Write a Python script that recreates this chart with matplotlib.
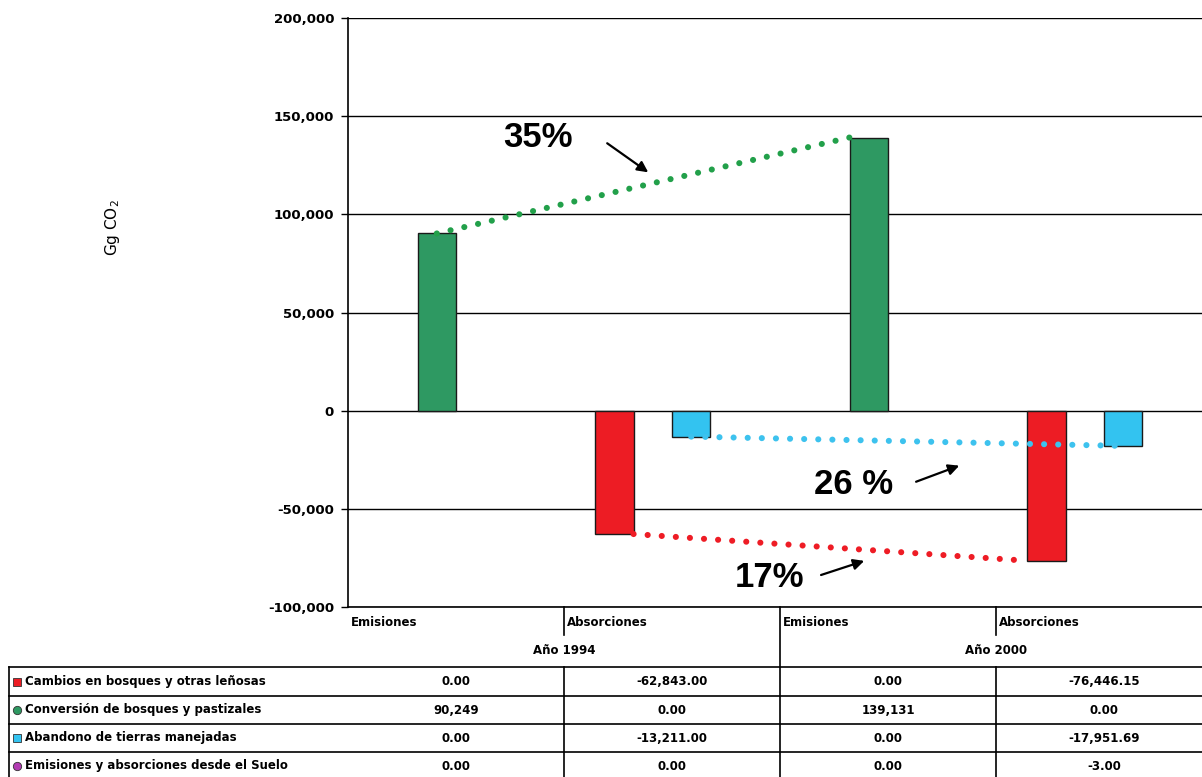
import numpy as np
import matplotlib
matplotlib.use("Agg")
import matplotlib.pyplot as plt

# datos
categorias = ["Emisiones", "Absorciones", "Emisiones", "Absorciones"]
anios = ["Año 1994", "Año 2000"]
series = [
    "Cambios en bosques y otras leñosas",
    "Conversión de bosques y pastizales",
    "Abandono de tierras manejadas",
    "Emisiones y absorciones desde el Suelo",
]
cambios = [0.00, -62843.00, 0.00, -76446.15]
conversion = [90249.0, 0.0, 139131.0, 0.0]
abandono = [0.00, -13211.00, 0.00, -17951.69]
suelo = [0.00, 0.00, 0.00, -3.00]
valores = [cambios, conversion, abandono, suelo]
decimales = [2, 0, 2, 2]

colores = ["#ED1C24", "#2E9962", "#33C3F0", "#B23BB2"]
marcadores = ["s", "o", "s", "o"]

# anotaciones (texto, posicion, flecha desde, flecha hasta)
notas = [
    ("35%", (0.38, 139300), (0.70, 136200), (0.89, 121400)),
    ("26 %", (1.84, -37750), (2.13, -36200), (2.33, -28000)),
    ("17%", (1.45, -85200), (1.69, -83700), (1.89, -76500)),
]

W, H = 1202, 777
fig = plt.figure(figsize=(W / 100, H / 100), dpi=100)

ax_left, ax_top, ax_bot, col_w = 348, 18, 607, 216
ax = fig.add_axes([ax_left / W, 1 - ax_bot / H, 4 * col_w / W, (ax_bot - ax_top) / H])

x = np.arange(len(categorias))
w = 0.178
offsets = (np.arange(4) - 1.5) * w
for i in range(4):
    vals = np.array(valores[i])
    lws = np.where(np.abs(vals) > 100, 1.0, 0.0)
    ax.bar(x + offsets[i], vals, width=w, color=colores[i],
           edgecolor="#1a1a1a", linewidth=lws, zorder=3)

ax.set_xlim(-0.5, 3.5)
ax.set_ylim(-100000, 200000)
ticks = np.arange(-100000, 200001, 50000)
ax.set_yticks(ticks)
ax.set_yticklabels([f"{v:,.0f}" for v in ticks],
                   fontsize=9.5, fontweight="bold", family="DejaVu Sans")
ax.tick_params(axis="y", length=5, width=1, pad=5)
ax.set_xticks([])
ax.yaxis.grid(True, color="black", linewidth=1)
ax.set_axisbelow(True)
for s in ["top", "right"]:
    ax.spines[s].set_visible(False)
ax.spines["left"].set_linewidth(1.2)
ax.spines["bottom"].set_linewidth(1.2)
fig.text(113 / W, 1 - 228 / H, "Gg CO$_2$", rotation=90, ha="center",
         va="center", fontsize=11)

# lineas punteadas entre años
dots = dict(linestyle=(0, (0.01, 2.3)), dash_capstyle="round", linewidth=4.4, zorder=4)
ax.plot([x[0] + offsets[1], x[2] + offsets[1] - w / 2], [conversion[0], conversion[2]],
        color="#22A04A", **dots)
ax.plot([x[1] + offsets[0] + w / 2, x[3] + offsets[0] - w / 2], [cambios[1], cambios[3]],
        color="#EE1C25", **dots)
ax.plot([x[1] + offsets[2], x[3] + offsets[2]], [abandono[1], abandono[3]],
        color="#3DC2EE", **dots)

for txt, pos, a0, a1 in notas:
    ax.text(pos[0], pos[1], txt, ha="center", va="center", fontsize=25,
            fontweight="bold", family="Liberation Sans", zorder=5)
    ax.annotate("", xy=a1, xytext=a0,
                arrowprops=dict(arrowstyle="-|>", color="black", lw=1.6,
                                mutation_scale=16, shrinkA=0, shrinkB=0), zorder=5)

# tabla de datos
tab = fig.add_axes([0, 0, 1, 1], facecolor="none")
tab.set_xlim(0, W)
tab.set_ylim(H, 0)
tab.axis("off")
lk = dict(color="black", linewidth=1.2)
bounds = [ax_left + col_w * i for i in range(5)]
hdr_mid, hdr_bot = 635, 667
row_lines = [667, 696, 724, 752, 780]
tab.plot([9, W], [hdr_bot, hdr_bot], **lk)
for yl in row_lines[1:]:
    tab.plot([9, W], [yl, yl], **lk)
tab.plot([9, 9], [hdr_bot, H], **lk)
tab.plot([bounds[2], bounds[2]], [ax_bot, H], **lk)
for b in (bounds[1], bounds[3]):
    tab.plot([b, b], [ax_bot, hdr_mid], **lk)
    tab.plot([b, b], [hdr_bot, H], **lk)

fk = dict(fontsize=8.5, fontweight="bold", family="DejaVu Sans")
for i, c in enumerate(categorias):
    tab.text(bounds[i] + 3, 622, c, ha="left", va="center", **fk)
for j, a in enumerate(anios):
    tab.text(bounds[2 * j + 1], 651, a, ha="center", va="center", **fk)

for i, nombre in enumerate(series):
    yc = (row_lines[i] + row_lines[i + 1]) / 2
    tab.plot(17, yc, marker=marcadores[i], color=colores[i], markersize=6,
             markeredgecolor="#333333", markeredgewidth=0.6)
    tab.text(25, yc, nombre, ha="left", va="center", **fk)
    for k, v in enumerate(valores[i]):
        s = "0.00" if v == 0 else f"{v:,.{decimales[i]}f}"
        tab.text(bounds[k] + col_w / 2, yc, s, ha="center", va="center", **fk)

fig.savefig("out.png", dpi=100)
